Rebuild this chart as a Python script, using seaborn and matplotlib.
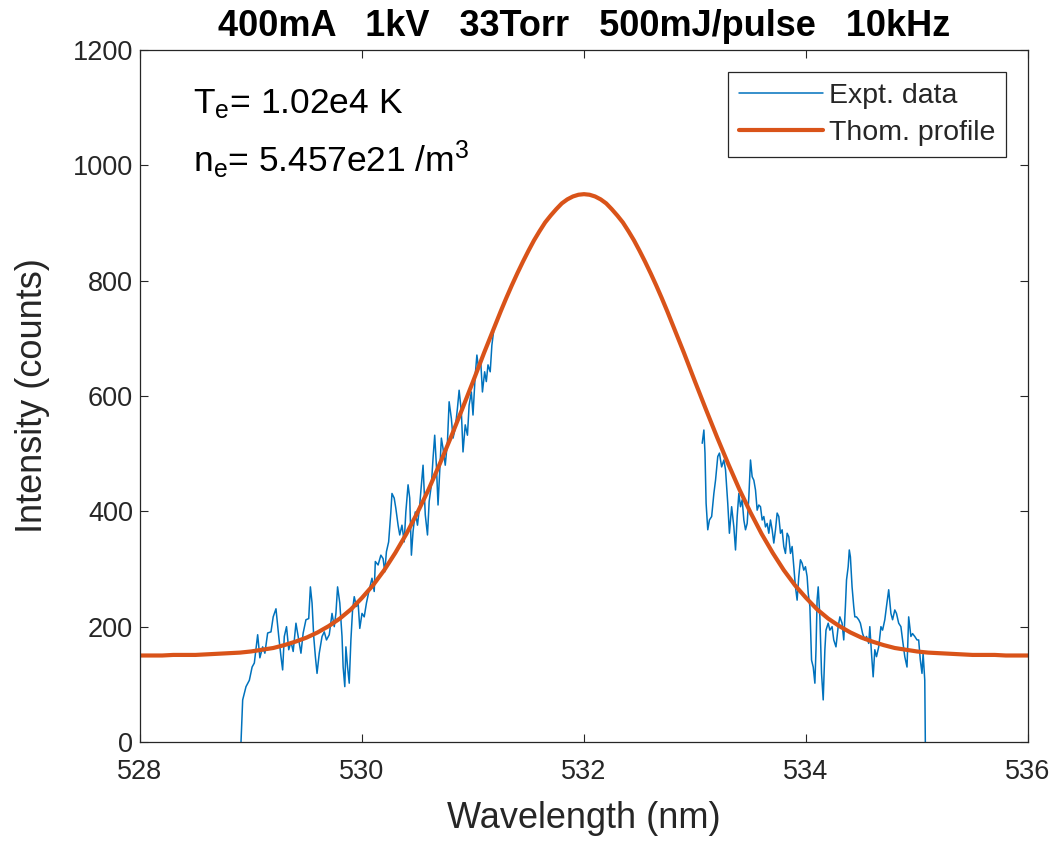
import matplotlib
matplotlib.use("Agg")
import matplotlib.pyplot as plt
import seaborn as sns

# Measured spectrum, blue side of the laser line (nm, counts)
wl_left = [528.91, 528.925, 528.955, 528.985, 529.01, 529.03, 529.06, 529.08, 529.105, 529.125,
           529.15, 529.18, 529.2, 529.225, 529.25, 529.27, 529.285, 529.3, 529.32, 529.34,
           529.36, 529.38, 529.405, 529.425, 529.45, 529.47, 529.495, 529.52, 529.535, 529.55,
           529.565, 529.58, 529.595, 529.615, 529.64, 529.66, 529.68, 529.705, 529.73, 529.75,
           529.765, 529.78, 529.8, 529.82, 529.83, 529.845, 529.855, 529.87, 529.885, 529.9,
           529.915, 529.93, 529.95, 529.965, 529.98, 530.0, 530.02, 530.04, 530.065, 530.09,
           530.11, 530.12, 530.145, 530.17, 530.19, 530.205, 530.22, 530.24, 530.26, 530.27,
           530.29, 530.305, 530.325, 530.34, 530.36, 530.38, 530.395, 530.415, 530.43, 530.445,
           530.46, 530.48, 530.5, 530.52, 530.535, 530.55, 530.57, 530.59, 530.605, 530.625,
           530.64, 530.655, 530.67, 530.685, 530.7, 530.715, 530.73, 530.75, 530.77, 530.785,
           530.805, 530.82, 530.84, 530.86, 530.875, 530.895, 530.91, 530.93, 530.95, 530.965,
           530.985, 531.0, 531.02, 531.035, 531.05, 531.07, 531.085, 531.105, 531.12, 531.135,
           531.155, 531.17, 531.185]
cnt_left = [0, 73, 96, 107, 130, 137, 186, 146, 165, 154,
            189, 191, 217, 231, 183, 148, 125, 183, 200, 160,
            174, 157, 206, 183, 154, 189, 212, 214, 269, 241,
            183, 148, 119, 154, 183, 191, 177, 186, 223, 200,
            223, 269, 241, 183, 130, 96, 165, 130, 102, 177,
            229, 252, 235, 241, 197, 223, 217, 241, 264, 284,
            261, 313, 307, 324, 318, 295, 330, 347, 399, 431,
            423, 405, 376, 359, 376, 347, 399, 446, 423, 324,
            365, 399, 376, 411, 446, 480, 394, 359, 417, 446,
            492, 532, 480, 411, 469, 527, 509, 480, 521, 590,
            561, 527, 544, 579, 610, 573, 503, 550, 532, 584,
            607, 567, 636, 671, 648, 659, 607, 642, 625, 654,
            642, 688, 711]

# Measured spectrum, red side of the laser line (nm, counts)
wl_right = [533.065, 533.08, 533.09, 533.1, 533.115, 533.13, 533.15, 533.17, 533.185, 533.205,
            533.22, 533.24, 533.26, 533.275, 533.295, 533.31, 533.33, 533.35, 533.365, 533.38,
            533.395, 533.41, 533.425, 533.44, 533.455, 533.47, 533.485, 533.5, 533.515, 533.53,
            533.545, 533.56, 533.575, 533.59, 533.605, 533.62, 533.635, 533.65, 533.665, 533.68,
            533.695, 533.71, 533.725, 533.74, 533.755, 533.77, 533.785, 533.8, 533.815, 533.83,
            533.845, 533.86, 533.875, 533.89, 533.905, 533.92, 533.935, 533.95, 533.965, 533.98,
            533.995, 534.01, 534.02, 534.035, 534.05, 534.065, 534.08, 534.09, 534.1, 534.11,
            534.125, 534.14, 534.155, 534.17, 534.18, 534.2, 534.215, 534.235, 534.25, 534.27,
            534.29, 534.305, 534.325, 534.34, 534.355, 534.365, 534.38, 534.39, 534.4, 534.415,
            534.43, 534.44, 534.455, 534.475, 534.49, 534.51, 534.53, 534.545, 534.565, 534.575,
            534.59, 534.605, 534.62, 534.635, 534.655, 534.675, 534.69, 534.71, 534.725, 534.745,
            534.765, 534.78, 534.8, 534.815, 534.835, 534.855, 534.87, 534.89, 534.91, 534.925,
            534.945, 534.96, 534.98, 535.0, 535.015, 535.03, 535.045, 535.055, 535.07, 535.075]
cnt_right = [518, 541, 501, 414, 368, 385, 391, 431, 454, 495,
             501, 477, 489, 472, 414, 362, 408, 373, 333, 391,
             431, 408, 420, 385, 368, 379, 425, 489, 460, 454,
             437, 402, 411, 408, 385, 391, 373, 379, 362, 385,
             368, 345, 368, 397, 391, 362, 368, 339, 327, 362,
             356, 327, 339, 304, 269, 246, 287, 316, 310, 298,
             304, 287, 258, 235, 142, 130, 102, 160, 246, 269,
             217, 119, 73, 160, 194, 206, 194, 200, 177, 165,
             200, 217, 206, 177, 235, 281, 304, 333, 321, 269,
             235, 217, 217, 212, 206, 188, 177, 183, 171, 200,
             154, 113, 160, 148, 165, 200, 194, 212, 235, 264,
             223, 212, 229, 223, 206, 200, 177, 148, 130, 217,
             183, 188, 183, 177, 177, 142, 119, 154, 107, 0]

# Fitted Thomson scattering profile: 0.1 nm sampling in the wings,
# 0.05 nm sampling across the central region (531-533 nm)
wl_fit = ([528.0 + 0.1 * i for i in range(30)]
          + [531.0 + 0.05 * i for i in range(40)]
          + [533.0 + 0.1 * i for i in range(31)])
cnt_fit = [150, 150, 150, 151, 151, 151, 152, 153, 154, 155,
           157, 160, 163, 168, 174, 181, 190, 201, 214, 230,
           250, 272, 298, 328, 361, 398, 438, 482, 528, 576,
           625, 650, 675, 699, 723, 747, 770, 792, 813, 833,
           852, 870, 886, 901, 913, 924, 934, 941, 946, 949,
           950, 949, 946, 941, 934, 924, 913, 901, 886, 870,
           852, 833, 813, 792, 770, 747, 723, 699, 675, 650,
           625, 576, 528, 482, 438, 398, 361, 328, 298, 272,
           250, 230, 214, 201, 190, 181, 174, 168, 163, 160,
           157, 155, 154, 153, 152, 151, 151, 151, 150, 150,
           150]

x_ticks = [528, 530, 532, 534, 536]
y_ticks = [0, 200, 400, 600, 800, 1000, 1200]

title_text = "400mA   1kV   33Torr   500mJ/pulse   10kHz"
te_text = r"T$_{\mathrm{e}}$= 1.02e4 K"
ne_text = r"n$_{\mathrm{e}}$= 5.457e21 /m$^{\mathrm{3}}$"

BLUE = "#0072BD"
ORANGE = "#D95319"
AXIS = "#262626"

sns.set_style("ticks")
plt.rcParams["font.family"] = ["Liberation Sans", "DejaVu Sans"]
plt.rcParams["mathtext.fontset"] = "custom"
plt.rcParams["mathtext.rm"] = "Liberation Sans"
plt.rcParams["mathtext.it"] = "Liberation Sans:italic"
plt.rcParams["mathtext.bf"] = "Liberation Sans:bold"

fig = plt.figure(figsize=(10.61, 8.5), dpi=100)
ax = fig.add_axes([140 / 1061, 1 - 742 / 850, 888 / 1061, 692 / 850])

sns.lineplot(x=wl_left, y=cnt_left, ax=ax, color=BLUE, lw=1.1,
             estimator=None, sort=False, label="Expt. data")
sns.lineplot(x=wl_right, y=cnt_right, ax=ax, color=BLUE, lw=1.1,
             estimator=None, sort=False)
sns.lineplot(x=wl_fit, y=cnt_fit, ax=ax, color=ORANGE, lw=3.0,
             estimator=None, sort=False, label="Thom. profile",
             solid_joinstyle="round", solid_capstyle="round")

ax.set_xlim(528, 536)
ax.set_ylim(0, 1200)
ax.set_xticks(x_ticks)
ax.set_yticks(y_ticks)
ax.tick_params(direction="in", top=True, right=True, length=6, width=0.8,
               color=AXIS, labelcolor=AXIS, labelsize=19.5)
ax.tick_params(axis="y", pad=5)
ax.tick_params(axis="x", pad=12)
for sp in ax.spines.values():
    sp.set_visible(True)
    sp.set_color(AXIS)
    sp.set_linewidth(0.9)

ax.set_xlabel("Wavelength (nm)", fontsize=26, color=AXIS, labelpad=12)
ax.set_ylabel("Intensity (counts)", fontsize=26, color=AXIS, labelpad=16)
ax.set_title(title_text, fontsize=26, fontweight="bold", color="black", pad=10)

ax.text(0.0597, 0.909, te_text, transform=ax.transAxes, fontsize=25.5,
        color="black", va="baseline", ha="left")
ax.text(0.0597, 0.824, ne_text, transform=ax.transAxes, fontsize=25.5,
        color="black", va="baseline", ha="left")

leg = ax.legend(loc="upper right", fontsize=20.5, handlelength=2.95,
                frameon=True, fancybox=False, framealpha=1,
                edgecolor=AXIS, borderaxespad=0.78, labelspacing=0.38,
                handletextpad=0.2, borderpad=0.38)
leg.get_frame().set_linewidth(0.9)

fig.savefig("out.png", dpi=100, facecolor="white")
